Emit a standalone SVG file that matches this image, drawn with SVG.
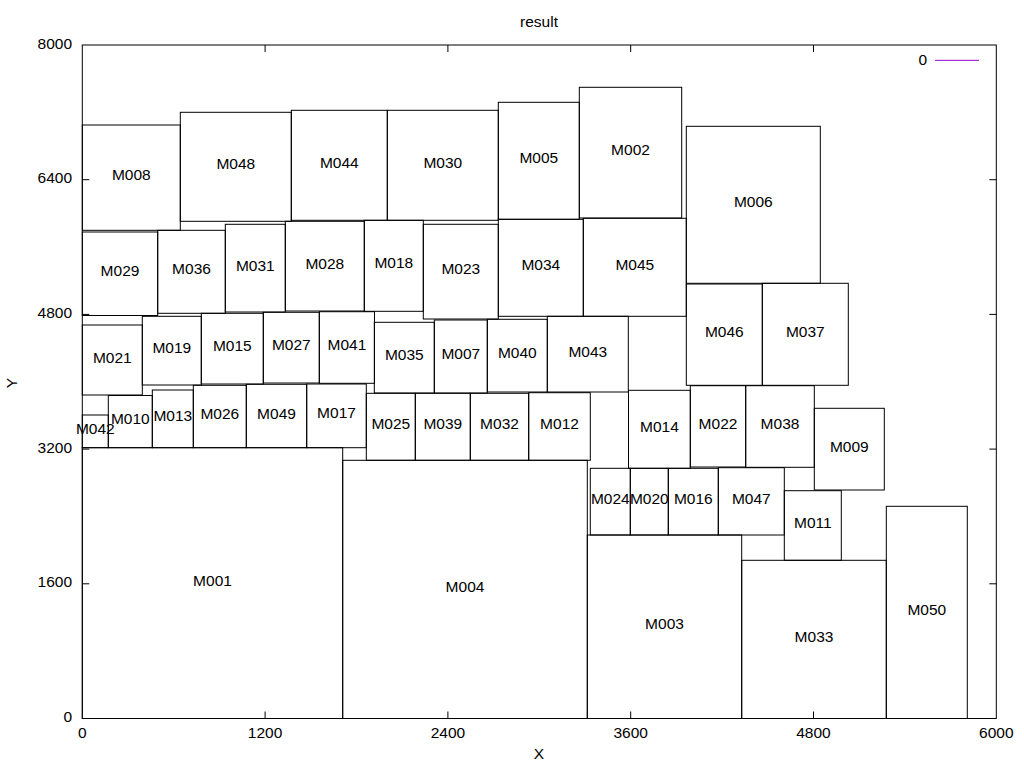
<svg xmlns="http://www.w3.org/2000/svg" width="1024" height="768" viewBox="0 0 1024 768">
<style>
text{font-family:"Liberation Sans",Arial,sans-serif;font-size:15.5px;fill:#000}
.m rect{fill:none;stroke:#000;stroke-width:1}
.m text{text-anchor:middle}
.yl{text-anchor:end}
.xl{text-anchor:middle}
.ax{fill:none;stroke:#000;stroke-width:1}
</style>
<rect x="0" y="0" width="1024" height="768" fill="#fff"/>
<g id="axes">
<rect class="ax" x="82.3" y="45" width="914" height="673.5"/>
<path class="ax" d="M82.3 583.8h7M82.3 449.1h7M82.3 314.4h7M82.3 179.7h7M996.3 583.8h-7M996.3 449.1h-7M996.3 314.4h-7M996.3 179.7h-7M265.1 718.5v-7M447.9 718.5v-7M630.7 718.5v-7M813.5 718.5v-7M265.1 45v7M447.9 45v7M630.7 45v7M813.5 45v7"/>
<text class="yl" x="72" y="722">0</text>
<text class="yl" x="72" y="587.3">1600</text>
<text class="yl" x="72" y="452.6">3200</text>
<text class="yl" x="72" y="317.9">4800</text>
<text class="yl" x="72" y="183.2">6400</text>
<text class="yl" x="72" y="48.5">8000</text>
<text class="xl" x="82.3" y="737.5">0</text>
<text class="xl" x="265.1" y="737.5">1200</text>
<text class="xl" x="447.9" y="737.5">2400</text>
<text class="xl" x="630.7" y="737.5">3600</text>
<text class="xl" x="813.5" y="737.5">4800</text>
<text class="xl" x="996.3" y="737.5">6000</text>
<text class="xl" x="539" y="26.5">result</text>
<text class="xl" x="539" y="759">X</text>
<text class="xl" transform="translate(17 383) rotate(-90)">Y</text>
</g>
<g id="legend">
<text class="yl" x="927" y="64.5">0</text>
<line x1="935" y1="60.3" x2="979" y2="60.3" stroke="#9400D3" stroke-width="1"/>
</g>
<g class="m">
<g id="M008"><rect x="82.3" y="125" width="98" height="105.3"/><text x="131.3" y="180.2">M008</text></g>
<g id="M048"><rect x="180.3" y="112.3" width="111" height="109"/><text x="235.8" y="169.3">M048</text></g>
<g id="M044"><rect x="291.3" y="110.3" width="96" height="110"/><text x="339.3" y="167.8">M044</text></g>
<g id="M030"><rect x="387.3" y="110.3" width="111" height="110"/><text x="442.8" y="167.8">M030</text></g>
<g id="M005"><rect x="498.3" y="102.3" width="81" height="117"/><text x="538.8" y="163.3">M005</text></g>
<g id="M002"><rect x="579.3" y="87.3" width="102.4" height="130.7"/><text x="630.5" y="155.2">M002</text></g>
<g id="M006"><rect x="686.3" y="126.3" width="134" height="157"/><text x="753.3" y="207.3">M006</text></g>
<g id="M029"><rect x="82.3" y="232" width="75.4" height="83.5"/><text x="120" y="276.3">M029</text></g>
<g id="M036"><rect x="157.7" y="230.3" width="67.6" height="83"/><text x="191.5" y="274.3">M036</text></g>
<g id="M031"><rect x="225.3" y="224.3" width="60" height="87.7"/><text x="255.3" y="270.7">M031</text></g>
<g id="M028"><rect x="285.3" y="221.3" width="79" height="89.7"/><text x="324.8" y="268.7">M028</text></g>
<g id="M018"><rect x="364.3" y="220.3" width="59" height="91"/><text x="393.8" y="268.3">M018</text></g>
<g id="M023"><rect x="423.3" y="224.3" width="75" height="94.7"/><text x="460.8" y="274.2">M023</text></g>
<g id="M034"><rect x="498.3" y="219.3" width="85" height="97"/><text x="540.8" y="270.3">M034</text></g>
<g id="M045"><rect x="583.3" y="218.3" width="103" height="98"/><text x="634.8" y="269.8">M045</text></g>
<g id="M046"><rect x="686.3" y="284" width="76" height="101.3"/><text x="724.3" y="337.2">M046</text></g>
<g id="M037"><rect x="762.3" y="283.3" width="86" height="102"/><text x="805.3" y="336.8">M037</text></g>
<g id="M021"><rect x="82.3" y="325" width="60" height="70"/><text x="112.3" y="362.5">M021</text></g>
<g id="M019"><rect x="142.3" y="316.3" width="59" height="68.7"/><text x="171.8" y="353.2">M019</text></g>
<g id="M015"><rect x="201.3" y="313.3" width="62" height="70.7"/><text x="232.3" y="351.2">M015</text></g>
<g id="M027"><rect x="263.3" y="312.3" width="56" height="70.7"/><text x="291.3" y="350.2">M027</text></g>
<g id="M041"><rect x="319.3" y="311.7" width="55.2" height="71.6"/><text x="346.9" y="350">M041</text></g>
<g id="M035"><rect x="374.3" y="322.3" width="60" height="70.7"/><text x="404.3" y="360.2">M035</text></g>
<g id="M007"><rect x="434.3" y="320" width="53" height="73"/><text x="460.8" y="359">M007</text></g>
<g id="M040"><rect x="487.3" y="319.3" width="60" height="72.7"/><text x="517.3" y="358.2">M040</text></g>
<g id="M043"><rect x="547.3" y="316.3" width="81" height="75.7"/><text x="587.8" y="356.7">M043</text></g>
<g id="M042"><rect x="82.3" y="415" width="26" height="32.7"/><text x="95.3" y="433.8">M042</text></g>
<g id="M010"><rect x="108.3" y="395.5" width="44" height="52.2"/><text x="130.3" y="424.1">M010</text></g>
<g id="M013"><rect x="152.3" y="390" width="41" height="57.7"/><text x="172.8" y="421.4">M013</text></g>
<g id="M026"><rect x="193.3" y="385.3" width="53" height="62.4"/><text x="219.8" y="419">M026</text></g>
<g id="M049"><rect x="246.3" y="384.3" width="60.4" height="63.4"/><text x="276.5" y="418.5">M049</text></g>
<g id="M017"><rect x="306.7" y="384" width="59.6" height="63.7"/><text x="336.5" y="418.4">M017</text></g>
<g id="M025"><rect x="366.3" y="393.3" width="49" height="67"/><text x="390.8" y="429.3">M025</text></g>
<g id="M039"><rect x="415.3" y="393.3" width="55" height="67"/><text x="442.8" y="429.3">M039</text></g>
<g id="M032"><rect x="470.3" y="393.3" width="58.4" height="67"/><text x="499.5" y="429.3">M032</text></g>
<g id="M012"><rect x="528.7" y="392.7" width="61.6" height="67.6"/><text x="559.5" y="429">M012</text></g>
<g id="M014"><rect x="628.5" y="390.3" width="61.8" height="78"/><text x="659.4" y="431.8">M014</text></g>
<g id="M022"><rect x="690.3" y="385.7" width="55.4" height="81.3"/><text x="718" y="428.9">M022</text></g>
<g id="M038"><rect x="745.7" y="385.7" width="68.6" height="81.6"/><text x="780" y="429">M038</text></g>
<g id="M009"><rect x="814.3" y="408.3" width="70" height="81.7"/><text x="849.3" y="451.7">M009</text></g>
<g id="M024"><rect x="590.3" y="468.3" width="40" height="66.7"/><text x="610.3" y="504.2">M024</text></g>
<g id="M020"><rect x="630.3" y="468.3" width="38" height="66.7"/><text x="649.3" y="504.2">M020</text></g>
<g id="M016"><rect x="668.3" y="468.3" width="50" height="66.7"/><text x="693.3" y="504.2">M016</text></g>
<g id="M047"><rect x="718.3" y="467.7" width="66" height="67.3"/><text x="751.3" y="503.9">M047</text></g>
<g id="M011"><rect x="784.3" y="490.7" width="57" height="69.6"/><text x="812.8" y="528">M011</text></g>
<g id="M001"><rect x="82.3" y="447.7" width="260.4" height="270.8"/><text x="212.5" y="585.6">M001</text></g>
<g id="M004"><rect x="342.7" y="460.3" width="244.6" height="258.2"/><text x="465" y="591.9">M004</text></g>
<g id="M003"><rect x="587.3" y="535" width="154.4" height="183.5"/><text x="664.5" y="629.3">M003</text></g>
<g id="M033"><rect x="741.7" y="560.3" width="144.6" height="158.2"/><text x="814" y="641.9">M033</text></g>
<g id="M050"><rect x="886.3" y="506.3" width="81" height="212.2"/><text x="926.8" y="614.9">M050</text></g>
</g>
</svg>
